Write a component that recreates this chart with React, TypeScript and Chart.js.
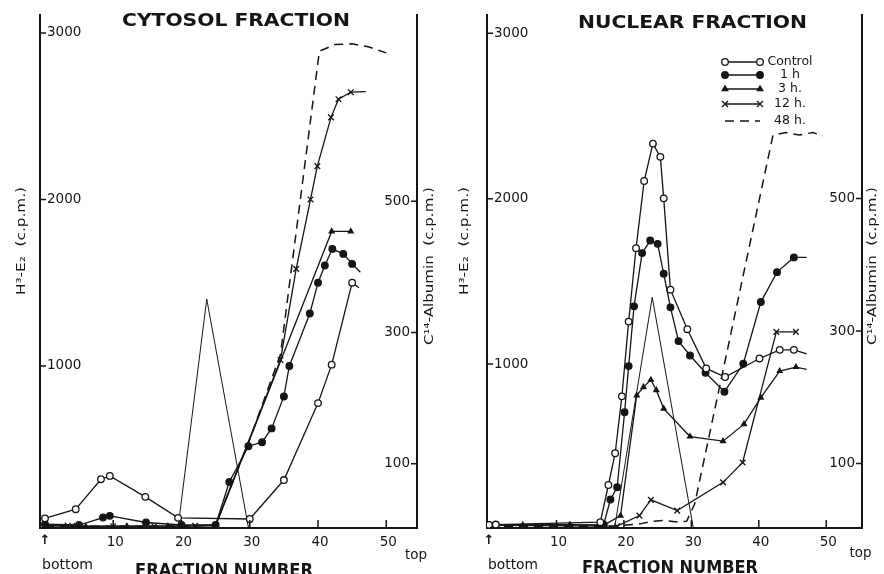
import React, { useEffect, useRef } from 'react';
import { Chart, registerables } from 'chart.js';

Chart.register(...registerables);

// ---------------- data (fraction number, counts per minute) ----------------
const fractionTicks = [10, 20, 30, 40, 50];
const h3Ticks = [1000, 2000, 3000];
const albuminTicks = [100, 300, 500];
const seriesLabels = ['Control', '1 h', '3 h.', '12 h.', '48 h.'];
const albuminLabel = 'C¹⁴-Albumin';

// Cytosol fraction (H3-E2, left axis)
const cytosolControl = [[0, 85], [4.5, 140], [8.2, 320], [9.5, 340], [14.7, 214], [19.5, 88], [30, 81], [35, 315], [40, 777], [42, 1008], [45, 1500], [46, 1470]];
const cytosol1h = [[0, 50], [5, 45], [8.5, 90], [9.5, 100], [14.8, 60], [20, 45], [25, 45], [27, 303], [29.8, 518], [31.8, 542], [33.2, 625], [35, 817], [35.8, 1000], [38.8, 1315], [40, 1500], [41, 1603], [42.1, 1703], [43.7, 1673], [45, 1613], [46.2, 1563]];
const cytosol3h = [[0, 40], [3, 38], [6, 36], [12, 38], [18, 38], [25, 40], [42, 1808], [44.8, 1808]];
const cytosol12h = [[0, 45], [4, 40], [10, 38], [16, 38], [22, 40], [25, 45], [34.5, 1036], [36.8, 1583], [38.9, 2000], [39.9, 2200], [41.9, 2493], [43, 2602], [44.8, 2644], [47, 2648]];
const cytosol48h = [[0, 38], [10, 38], [20, 38], [25, 45], [30, 560], [34.5, 1070], [40.2, 2890], [42.5, 2930], [45, 2935], [47.5, 2915], [50, 2880]];
// Cytosol C14-albumin marker (right axis)
const cytosolAlbumin = [[19.5, 3], [23.7, 351], [29.8, 3]];

// Nuclear fraction (H3-E2, left axis)
const nuclearControl = [[0, 28], [1, 30], [16.5, 44], [17.7, 269], [18.7, 461], [19.7, 805], [20.7, 1257], [21.8, 1701], [23, 2107], [24.3, 2333], [25.4, 2253], [25.9, 2002], [26.9, 1450], [29.4, 1211], [32.2, 974], [35, 922], [40.1, 1034], [43.1, 1086], [45.2, 1086], [47.1, 1062]];
const nuclear1h = [[0, 25], [1, 28], [17, 30], [18, 181], [19, 255], [20.1, 709], [20.7, 988], [21.5, 1349], [22.7, 1671], [23.9, 1747], [25, 1727], [25.9, 1546], [26.9, 1343], [28.1, 1139], [29.8, 1052], [32.1, 948], [34.9, 833], [37.7, 1002], [40.3, 1375], [42.7, 1556], [45.2, 1645], [47.1, 1645]];
const nuclear3h = [[0, 25], [1, 25], [5, 28], [12, 30], [17, 25], [19.5, 84], [21.9, 811], [22.9, 861], [24, 905], [24.8, 842], [25.9, 731], [29.8, 562], [34.7, 534], [37.8, 637], [40.3, 797], [43.1, 958], [45.5, 982], [47.1, 968]];
const nuclear12h = [[0, 25], [1, 25], [19, 20], [22.3, 84], [24, 179], [27.9, 114], [34.7, 285], [37.6, 405], [42.6, 1195], [45.5, 1195]];
const nuclear48h = [[0, 20], [18, 20], [20, 25], [22.4, 34], [24.3, 50], [26, 55], [28, 45], [29.3, 50], [30.5, 155], [42.1, 2384], [44, 2400], [46, 2385], [48, 2400], [49.5, 2380]];
// Nuclear C14-albumin marker (right axis)
const nuclearAlbumin = [[18.6, 2], [24.2, 351], [30.3, 2]];

// ---------------- styling ----------------
const INK = '#151515';
const TICK_FONT = { family: "'DejaVu Sans', sans-serif", size: 13.5 };

type Style = { pointStyle: any; radius: number; fill: string; dash: number[]; width: number };
const seriesStyles: Style[] = [
  { pointStyle: 'circle', radius: 3.3, fill: '#ffffff', dash: [], width: 1.3 },
  { pointStyle: 'circle', radius: 3.3, fill: INK, dash: [], width: 1.3 },
  { pointStyle: 'triangle', radius: 2.8, fill: INK, dash: [], width: 1.3 },
  { pointStyle: 'crossRot', radius: 4, fill: INK, dash: [], width: 1.3 },
  { pointStyle: false, radius: 0, fill: INK, dash: [9, 6], width: 1.5 },
];

type Panel = {
  series: number[][][];
  tails: boolean[];
  albumin: number[][];
  xMin: number; xMax: number;
  yMin: number; yMax: number;
  y1Min: number; y1Max: number;
  leftW: number; rightW: number;
  decor: any;
};

const cytosolPanel: Panel = {
  series: [cytosolControl, cytosol1h, cytosol3h, cytosol12h, cytosol48h],
  tails: [true, true, false, true, false],
  albumin: cytosolAlbumin,
  xMin: -0.73, xMax: 54.5,
  yMin: 27, yMax: 3107,
  y1Min: 2, y1Max: 784,
  leftW: 40, rightW: 25,
  decor: {
    title: 'CYTOSOL FRACTION', titleX: 236, titleY: 22, titleW: 228,
    yTitleX: 22, yTitleY: 241, yTitleW: 108,
    y1TitleX: 430, y1TitleY: 266, y1TitleW: 158,
    bottomX: 42, bottomY: 565, bottomW: 51,
    topX: 416, topY: 555, topW: 22,
    fnX: 224, fnY: 563, fnW: 178,
    legend: false,
  },
};

const nuclearPanel: Panel = {
  series: [nuclearControl, nuclear1h, nuclear3h, nuclear12h, nuclear48h],
  tails: [true, true, true, false, false],
  albumin: nuclearAlbumin,
  xMin: -0.3, xMax: 55.3,
  yMin: 9, yMax: 3110,
  y1Min: 2.6, y1Max: 777,
  leftW: 45, rightW: 22,
  decor: {
    title: 'NUCLEAR FRACTION', titleX: 250.5, titleY: 24, titleW: 229,
    yTitleX: 23, yTitleY: 241, yTitleW: 108,
    y1TitleX: 431, y1TitleY: 266, y1TitleW: 158,
    bottomX: 46, bottomY: 565, bottomW: 50,
    topX: 418.5, topY: 553, topW: 22,
    fnX: 228, fnY: 560, fnW: 176,
    legend: true,
    legendX1: 283, legendX2: 318, legendTextX: 348,
    legendRows: [62, 75, 89, 104, 121],
  },
};

// ---------------- helpers ----------------
function fitText(ctx: CanvasRenderingContext2D, text: string, cx: number, cy: number, width: number, font: string, rotate = false, baseline: CanvasTextBaseline = 'middle') {
  ctx.save();
  ctx.font = font;
  ctx.fillStyle = INK;
  ctx.textAlign = 'center';
  ctx.textBaseline = baseline;
  const w = ctx.measureText(text).width || 1;
  ctx.translate(cx, cy);
  if (rotate) ctx.rotate(-Math.PI / 2);
  ctx.scale(width / w, 1);
  ctx.fillText(text, 0, 0);
  ctx.restore();
}

function marker(ctx: CanvasRenderingContext2D, style: Style, x: number, y: number) {
  if (!style.pointStyle) return;
  const r = style.radius;
  ctx.save();
  ctx.strokeStyle = INK;
  ctx.fillStyle = style.fill;
  ctx.lineWidth = 1.3;
  ctx.setLineDash([]);
  ctx.beginPath();
  if (style.pointStyle === 'circle') {
    ctx.arc(x, y, r, 0, Math.PI * 2);
    ctx.fill();
    ctx.stroke();
  } else if (style.pointStyle === 'triangle') {
    ctx.moveTo(x, y - r * 1.1);
    ctx.lineTo(x + r, y + r * 0.6);
    ctx.lineTo(x - r, y + r * 0.6);
    ctx.closePath();
    ctx.fill();
    ctx.stroke();
  } else {
    const d = r * 0.75;
    ctx.moveTo(x - d, y - d); ctx.lineTo(x + d, y + d);
    ctx.moveTo(x + d, y - d); ctx.lineTo(x - d, y + d);
    ctx.stroke();
  }
  ctx.restore();
}

const decorPlugin = {
  id: 'panelDecor',
  afterDraw(chart: any, _args: any, opts: any) {
    const ctx: CanvasRenderingContext2D = chart.ctx;
    const { left, right, bottom } = chart.chartArea;
    const xs = chart.scales.x, ys = chart.scales.y, y1s = chart.scales.y1;
    ctx.save();
    // inside tick marks
    ctx.strokeStyle = INK;
    ctx.lineWidth = 1.5;
    ctx.beginPath();
    ys.ticks.forEach((t: any) => { const p = ys.getPixelForValue(t.value); ctx.moveTo(left, p); ctx.lineTo(left + 6, p); });
    y1s.ticks.forEach((t: any) => { const p = y1s.getPixelForValue(t.value); ctx.moveTo(right - 6, p); ctx.lineTo(right, p); });
    xs.ticks.forEach((t: any) => { const p = xs.getPixelForValue(t.value); ctx.moveTo(p, bottom); ctx.lineTo(p, bottom - 8); });
    ctx.stroke();
    ctx.restore();

    const sans = "'DejaVu Sans', sans-serif";
    fitText(ctx, opts.title, opts.titleX, opts.titleY, opts.titleW, `bold 17px ${sans}`);
    fitText(ctx, 'H³-E₂  (c.p.m.)', opts.yTitleX, opts.yTitleY, opts.yTitleW, `13px ${sans}`, true);
    fitText(ctx, 'C¹⁴-Albumin  (c.p.m.)', opts.y1TitleX, opts.y1TitleY, opts.y1TitleW, `13px ${sans}`, true);
    // arrow at fraction 0 ("bottom" of the gradient)
    ctx.save();
    ctx.font = `bold 13px ${sans}`;
    ctx.fillStyle = INK;
    ctx.textAlign = 'center';
    ctx.textBaseline = 'middle';
    ctx.fillText('↑', xs.getPixelForValue(0), 541);
    ctx.restore();
    fitText(ctx, 'bottom', opts.bottomX + opts.bottomW / 2, opts.bottomY, opts.bottomW, `14px ${sans}`);
    fitText(ctx, 'top', opts.topX, opts.topY, opts.topW, `14px ${sans}`);
    fitText(ctx, 'FRACTION NUMBER', opts.fnX, opts.fnY, opts.fnW, `bold 17px ${sans}`, false, 'top');

    if (opts.legend) {
      chart.data.datasets.slice(0, seriesStyles.length).forEach((ds: any, i: number) => {
        const st = seriesStyles[i];
        const y = opts.legendRows[i];
        ctx.save();
        ctx.strokeStyle = INK;
        ctx.lineWidth = st.width;
        ctx.setLineDash(st.dash);
        ctx.beginPath();
        ctx.moveTo(opts.legendX1, y);
        ctx.lineTo(opts.legendX2, y);
        ctx.stroke();
        ctx.restore();
        marker(ctx, st, opts.legendX1, y);
        marker(ctx, st, opts.legendX2, y);
        ctx.save();
        ctx.font = `12.5px ${sans}`;
        ctx.fillStyle = INK;
        ctx.textAlign = 'center';
        ctx.textBaseline = 'middle';
        ctx.fillText(ds.label, opts.legendTextX, y);
        ctx.restore();
      });
    }
  },
};

function buildConfig(p: Panel): any {
  const datasets: any[] = p.series.map((pts, i) => {
    const st = seriesStyles[i];
    const last = pts.length - 1;
    const tail = p.tails[i];
    return {
      label: seriesLabels[i],
      data: pts.map(([x, y]) => ({ x, y })),
      yAxisID: 'y',
      showLine: true,
      borderColor: INK,
      borderWidth: st.width,
      borderDash: st.dash,
      pointStyle: st.pointStyle,
      pointRadius: (c: any) => (tail && c.dataIndex === last ? 0 : st.radius),
      pointBackgroundColor: st.fill,
      pointBorderColor: INK,
      pointBorderWidth: 1.3,
      tension: 0,
    };
  });
  datasets.push({
    label: albuminLabel,
    data: p.albumin.map(([x, y]) => ({ x, y })),
    yAxisID: 'y1',
    showLine: true,
    borderColor: INK,
    borderWidth: 1,
    pointRadius: 0,
    tension: 0,
  });

  const axisCommon = {
    grid: { display: false, drawTicks: false },
    border: { display: true, color: INK, width: 2 },
  };

  return {
    type: 'scatter',
    data: { datasets },
    plugins: [decorPlugin],
    options: {
      animation: false,
      responsive: false,
      maintainAspectRatio: false,
      events: [],
      layout: { padding: { top: 13, left: 0, right: 0, bottom: 0 } },
      plugins: {
        legend: { display: false },
        tooltip: { enabled: false },
        panelDecor: p.decor,
      },
      scales: {
        x: {
          type: 'linear',
          min: p.xMin,
          max: p.xMax,
          ...axisCommon,
          afterBuildTicks: (s: any) => { s.ticks = fractionTicks.map((v) => ({ value: v })); },
          afterFit: (s: any) => { s.height = 46; },
          ticks: { color: INK, font: TICK_FONT, padding: 6, maxRotation: 0, autoSkip: false, labelOffset: 2, callback: (v: any) => String(v) },
        },
        y: {
          type: 'linear',
          position: 'left',
          min: p.yMin,
          max: p.yMax,
          ...axisCommon,
          afterBuildTicks: (s: any) => { s.ticks = h3Ticks.map((v) => ({ value: v })); },
          afterFit: (s: any) => { s.width = p.leftW; },
          ticks: { color: INK, font: TICK_FONT, mirror: true, padding: 7, autoSkip: false, callback: (v: any) => String(v) },
        },
        y1: {
          type: 'linear',
          position: 'right',
          min: p.y1Min,
          max: p.y1Max,
          ...axisCommon,
          afterBuildTicks: (s: any) => { s.ticks = albuminTicks.map((v) => ({ value: v })); },
          afterFit: (s: any) => { s.width = p.rightW; },
          ticks: { color: INK, font: TICK_FONT, mirror: true, padding: -7, autoSkip: false, callback: (v: any) => String(v) },
        },
      },
    },
  };
}

export default function App() {
  const leftRef = useRef<HTMLCanvasElement>(null);
  const rightRef = useRef<HTMLCanvasElement>(null);

  useEffect(() => {
    const a = new Chart(leftRef.current as HTMLCanvasElement, buildConfig(cytosolPanel));
    const b = new Chart(rightRef.current as HTMLCanvasElement, buildConfig(nuclearPanel));
    return () => {
      a.destroy();
      b.destroy();
    };
  }, []);

  return (
    <div style={{ position: 'absolute', left: 0, top: 0, width: 884, height: 574, background: '#ffffff', overflow: 'hidden' }}>
      <canvas ref={leftRef} width={442} height={574} style={{ position: 'absolute', left: 0, top: 0, width: 442, height: 574 }} />
      <canvas ref={rightRef} width={442} height={574} style={{ position: 'absolute', left: 442, top: 0, width: 442, height: 574 }} />
    </div>
  );
}
